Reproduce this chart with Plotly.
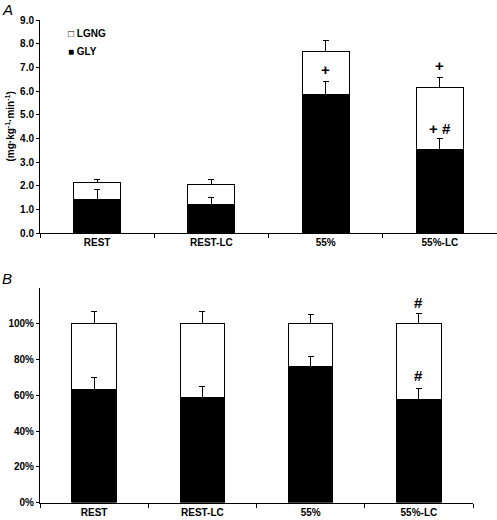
import plotly.graph_objects as go

categories = ["REST", "REST-LC", "55%", "55%-LC"]

# Panel A: absolute rates (mg·kg-1·min-1)
gly_abs = [1.42, 1.23, 5.84, 3.52]
lgng_abs = [0.73, 0.85, 1.85, 2.64]
gly_abs_err = [0.44, 0.26, 0.58, 0.48]
lgng_abs_err = [0.13, 0.19, 0.45, 0.43]

# Panel B: relative contribution (%)
gly_pct = [63.4, 58.9, 76.1, 57.4]
lgng_pct = [36.6, 41.1, 23.9, 42.6]
gly_pct_err = [6.5, 6.0, 5.4, 6.6]
lgng_pct_err = [6.6, 6.6, 5.4, 6.0]

a_ticks = [0, 1, 2, 3, 4, 5, 6, 7, 8, 9]
a_ticktext = ["0.0", "1.0", "2.0", "3.0", "4.0", "5.0", "6.0", "7.0", "8.0", "9.0"]
b_ticks = [0, 20, 40, 60, 80, 100]
b_ticktext = ["0%", "20%", "40%", "60%", "80%", "100%"]

# significance marks: (category, y, text)
marks_a = [("55%", 6.9, "+"), ("55%-LC", 7.1, "+"), ("55%-LC", 4.43, "+ #")]
marks_b = [("55%-LC", 112, "#"), ("55%-LC", 70.9, "#")]

FONT = "Arial, Liberation Sans, sans-serif"
BLK = "#000000"

fig = go.Figure()

def err(arr):
    return dict(type="data", symmetric=False, array=arr, arrayminus=[0] * len(arr),
                color=BLK, thickness=1, width=3)

for (g, l, ge, le, xa, ya) in [
    (gly_abs, lgng_abs, gly_abs_err, lgng_abs_err, "x", "y"),
    (gly_pct, lgng_pct, gly_pct_err, lgng_pct_err, "x2", "y2"),
]:
    fig.add_trace(go.Bar(x=categories, y=g, name="GLY", xaxis=xa, yaxis=ya,
                         marker=dict(color=BLK, line=dict(color=BLK, width=1)),
                         error_y=err(ge), showlegend=False))
    fig.add_trace(go.Bar(x=categories, y=l, name="LGNG", xaxis=xa, yaxis=ya,
                         marker=dict(color="rgba(255,255,255,0)", line=dict(color=BLK, width=1)),
                         error_y=err(le), showlegend=False))

tickfont = dict(family=FONT, size=10, color=BLK, weight="bold")
xcommon = dict(type="category", categoryorder="array", categoryarray=categories,
               range=[-0.5, 3.5], showline=True, linecolor=BLK, linewidth=1,
               ticks="outside", tickson="boundaries", ticklen=4, tickcolor=BLK,
               tickfont=tickfont, showgrid=False, zeroline=False, automargin=False)
ycommon = dict(showline=True, linecolor=BLK, linewidth=1, ticks="outside", ticklen=3,
               tickcolor=BLK, tickfont=tickfont, showgrid=False, zeroline=False,
               automargin=False, tickmode="array")

W, H = 497, 520
fig.update_layout(
    width=W, height=H, template="none",
    margin=dict(l=0, r=0, t=0, b=0),
    paper_bgcolor="white", plot_bgcolor="white",
    barmode="stack", bargap=0.59,
    showlegend=False,
    xaxis=dict(domain=[40 / W, 1.0], anchor="y", **xcommon),
    yaxis=dict(domain=[1 - 233.3 / H, 1 - 20 / H], anchor="x", range=[0, 9],
               tickvals=a_ticks, ticktext=a_ticktext, **ycommon),
    xaxis2=dict(domain=[40 / W, 473 / W], anchor="y2", **xcommon),
    yaxis2=dict(domain=[1 - 502.5 / H, 1 - 288 / H], anchor="x2", range=[0, 120],
                tickvals=b_ticks, ticktext=b_ticktext, **ycommon),
    font=dict(family=FONT, color=BLK),
)

ann = []
markfont = dict(family=FONT, size=15, color=BLK, weight="bold")
for c, y, t in marks_a:
    ann.append(dict(x=c, y=y, xref="x", yref="y", text=t, showarrow=False,
                    font=markfont, yanchor="middle"))
for c, y, t in marks_b:
    ann.append(dict(x=c, y=y, xref="x2", yref="y2", text=t, showarrow=False,
                    font=markfont, yanchor="middle"))

# panel letters
letterfont = dict(family=FONT, size=15, color=BLK, style="italic")
ann.append(dict(x=0, y=1 + 1 / H, xref="paper", yref="paper", text="A",
                showarrow=False, xanchor="left", yanchor="top", font=letterfont))
ann.append(dict(x=0, y=1 - 268 / H, xref="paper", yref="paper", text="B",
                showarrow=False, xanchor="left", yanchor="top", font=letterfont))

boldfont = dict(family=FONT, size=10, color=BLK, weight="bold")
# y title panel A
ann.append(dict(x=9 / W, y=1 - 126.5 / H, xref="paper", yref="paper",
                text="(mg·kg<sup>-1</sup>·min<sup>-1</sup>)", textangle=-90,
                showarrow=False, xanchor="center", yanchor="middle", font=boldfont))

# legend as text
ann.append(dict(x=66 / W, y=1 - 34 / H, xref="paper", yref="paper",
                text="<span style='font-size:10px'>□</span> LGNG",
                showarrow=False, xanchor="left", yanchor="middle", font=boldfont))
ann.append(dict(x=66 / W, y=1 - 52 / H, xref="paper", yref="paper",
                text="<span style='font-size:10px'>■</span> GLY",
                showarrow=False, xanchor="left", yanchor="middle", font=boldfont))

fig.update_layout(annotations=ann)
fig.write_html("out.html", config={"displayModeBar": False},
               post_script="document.body.style.margin='0';document.body.style.padding='0';")
